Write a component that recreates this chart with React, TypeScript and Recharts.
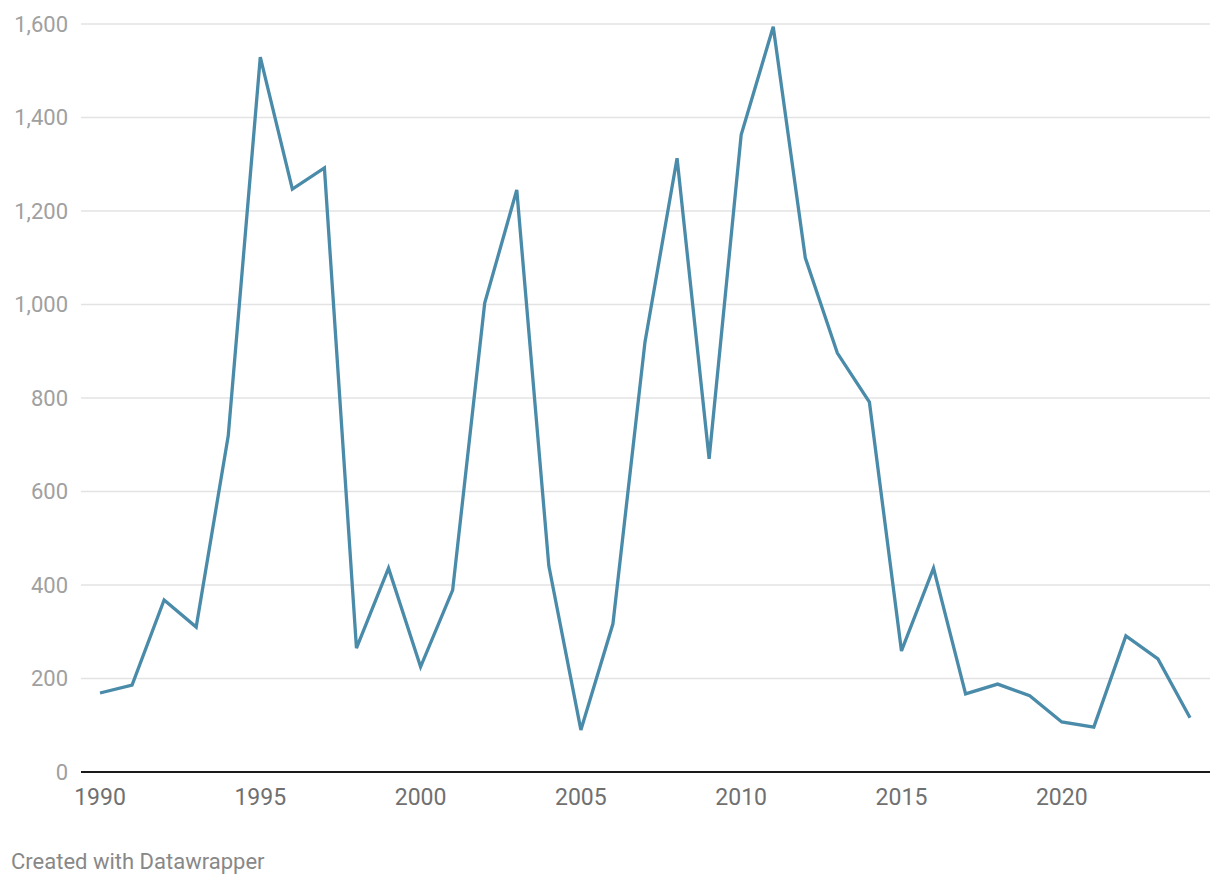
import { LineChart, Line, XAxis, YAxis, CartesianGrid } from "recharts";

const years = [
  1990, 1991, 1992, 1993, 1994, 1995, 1996, 1997, 1998, 1999,
  2000, 2001, 2002, 2003, 2004, 2005, 2006, 2007, 2008, 2009,
  2010, 2011, 2012, 2013, 2014, 2015, 2016, 2017, 2018, 2019,
  2020, 2021, 2022, 2023, 2024,
];

const values = [
  169, 186, 368, 310, 719, 1529, 1247, 1292, 265, 436,
  225, 389, 1003, 1245, 441, 90, 317, 920, 1313, 670,
  1363, 1594, 1100, 896, 791, 259, 436, 167, 188, 163,
  107, 96, 291, 242, 116,
];

const yTicks = [0, 200, 400, 600, 800, 1000, 1200, 1400, 1600];
const xTicks = [1990, 1995, 2000, 2005, 2010, 2015, 2020];

const data = years.map((year, i) => ({ year, value: values[i] }));

const font = "Roboto, 'Noto Sans', sans-serif";

export default function App() {
  return (
    <div
      style={{
        position: "absolute",
        top: 0,
        left: 0,
        width: 1220,
        height: 888,
        background: "#fff",
        fontFamily: font,
      }}
    >
      <LineChart
        width={1220}
        height={812}
        data={data}
        margin={{ top: 24, right: 10, bottom: 0, left: 0 }}
      >
        <CartesianGrid vertical={false} stroke="#e3e3e3" strokeWidth={1.5} />
        <XAxis
          dataKey="year"
          type="number"
          domain={[1990, 2024]}
          ticks={xTicks}
          padding={{ left: 19, right: 20 }}
          height={40}
          tickLine={false}
          tickSize={0}
          tickMargin={17}
          axisLine={{ stroke: "#1a1a1a", strokeWidth: 2 }}
          tick={{ fill: "#707070", fontSize: 23, fontFamily: font }}
        />
        <YAxis
          domain={[0, 1600]}
          ticks={yTicks}
          width={81}
          axisLine={false}
          tickLine={false}
          tickSize={0}
          tickMargin={13}
          tickFormatter={(v: number) => v.toLocaleString("en-US")}
          tick={{ fill: "#a0a0a0", fontSize: 22, fontFamily: font }}
        />
        <Line
          type="linear"
          dataKey="value"
          stroke="#4a8baa"
          strokeWidth={3.3}
          dot={false}
          activeDot={false}
          isAnimationActive={false}
        />
      </LineChart>
      <div
        style={{
          position: "absolute",
          left: 11,
          top: 849,
          fontSize: 22,
          color: "#888",
          fontFamily: font,
        }}
      >
        Created with Datawrapper
      </div>
    </div>
  );
}
